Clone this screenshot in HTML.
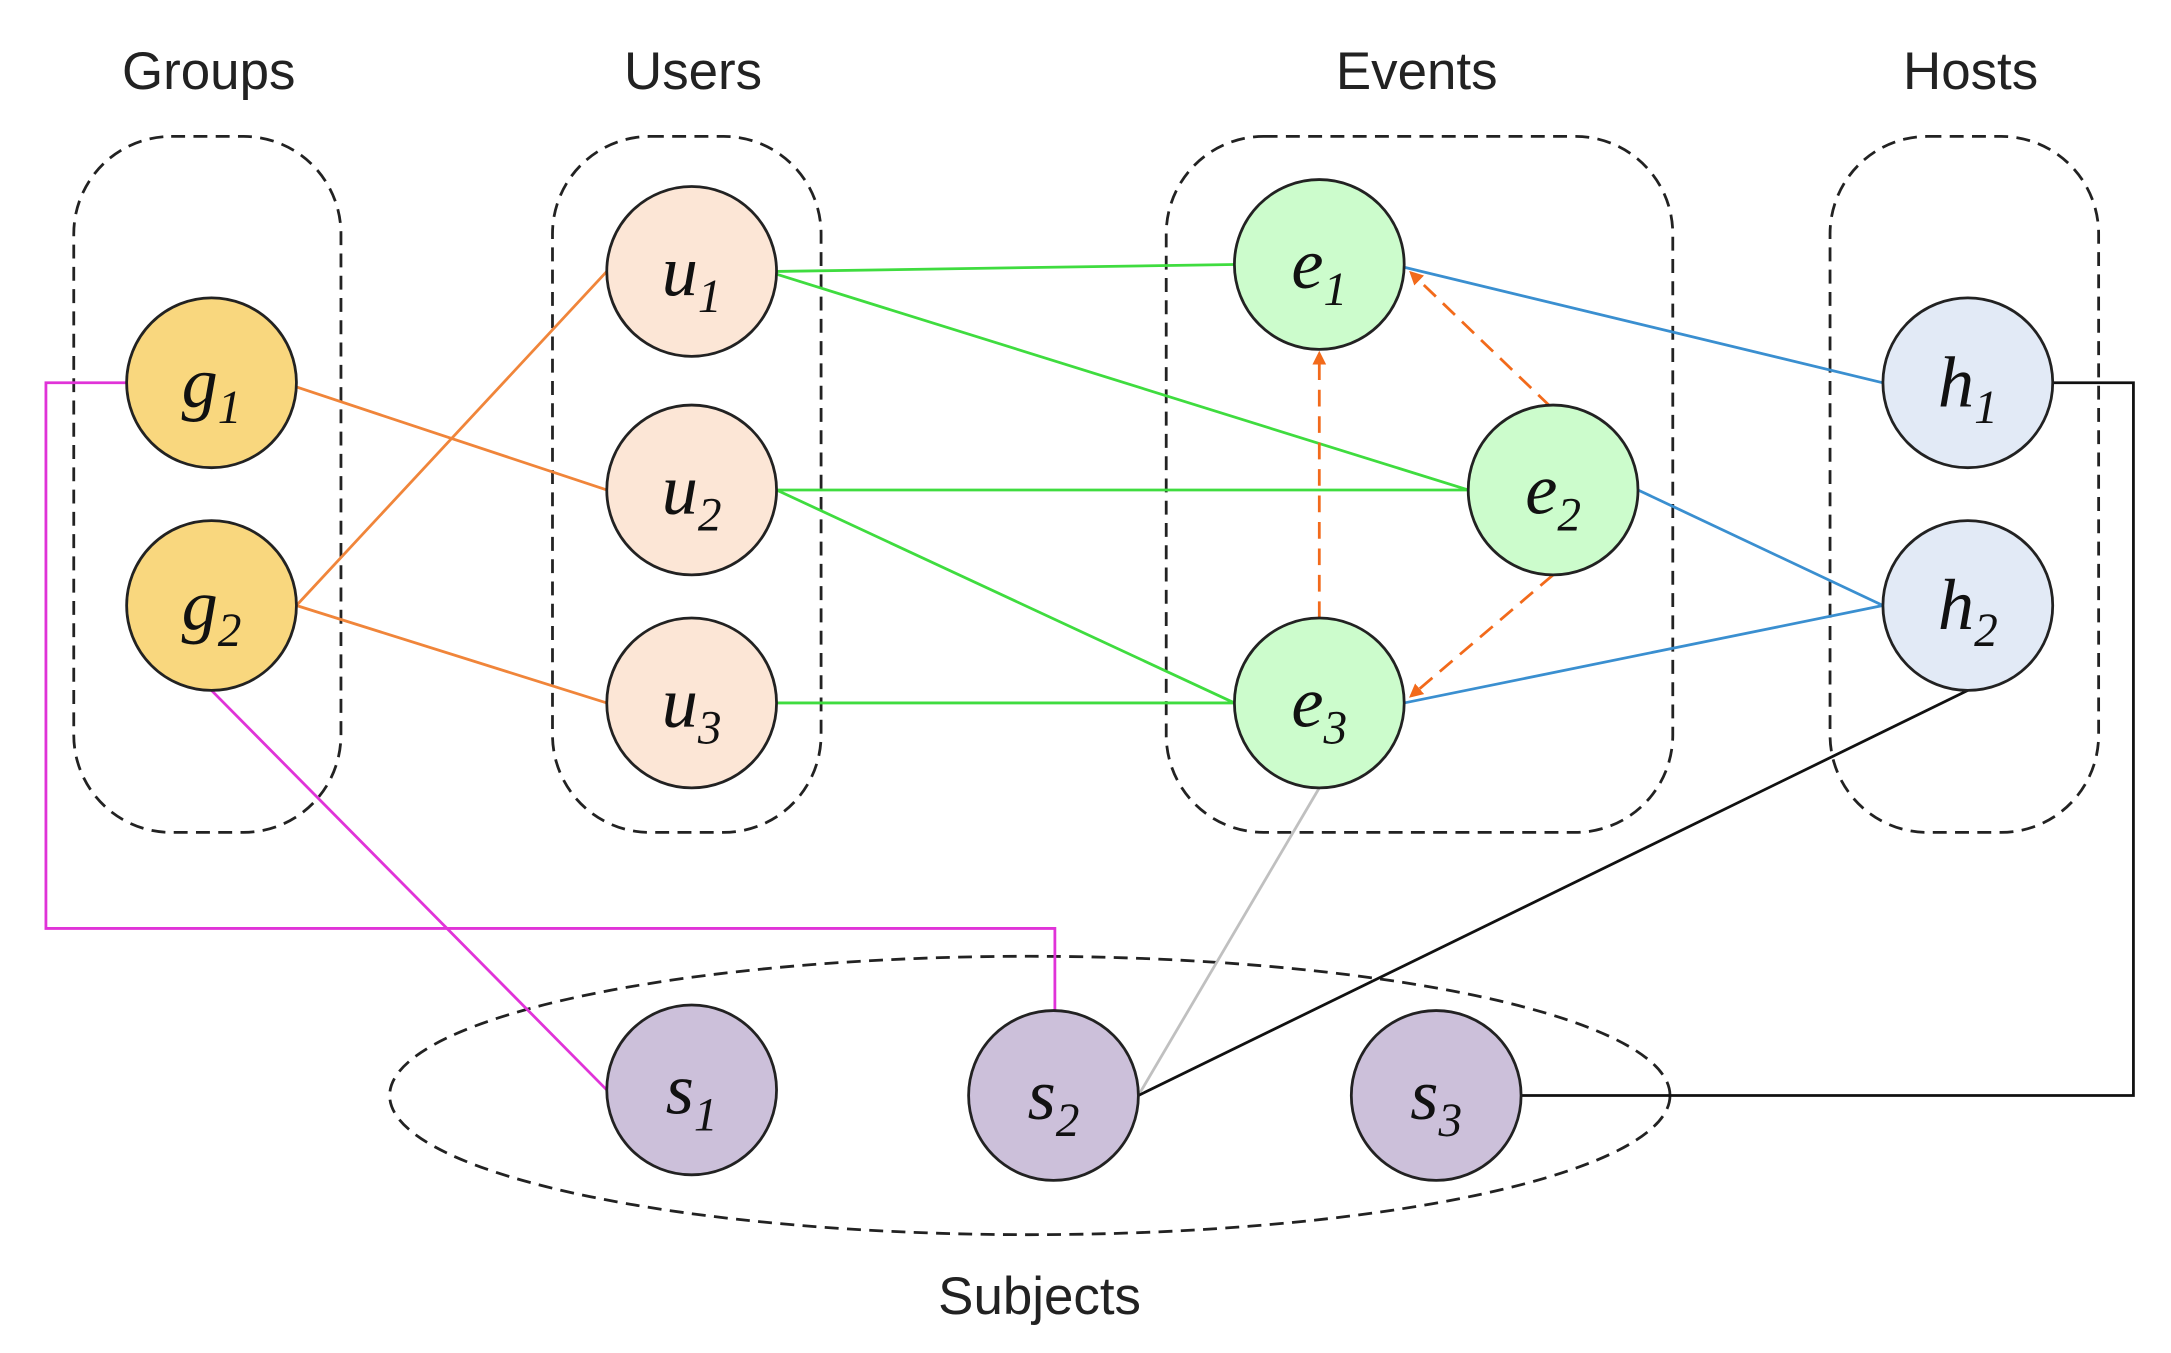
<!DOCTYPE html>
<html><head><meta charset="utf-8"><style>
html,body{margin:0;padding:0;background:#fff;}
svg{display:block;}
.lab{font-family:"Liberation Sans",sans-serif;font-size:38px;fill:#222;text-anchor:middle;}
.nl{font-family:"Liberation Serif",serif;font-style:italic;font-size:52px;fill:#111;text-anchor:middle;}
.sub{font-size:34px;}
</style></head><body>
<svg width="2171" height="1353" viewBox="0 0 1560 972" preserveAspectRatio="none">
<defs>
<marker id="ar" markerWidth="10" markerHeight="10" refX="8" refY="5" orient="auto" markerUnits="userSpaceOnUse"><path d="M0,0 L10,5 L0,10 z" fill="#f26a1b"/></marker>
</defs>
<g fill="none" stroke="#222" stroke-width="2" stroke-dasharray="10,6">
<rect x="53" y="98" width="192" height="500" rx="70"/>
<rect x="397" y="98" width="193" height="500" rx="70"/>
<rect x="838" y="98" width="364" height="500" rx="70"/>
<rect x="1315" y="98" width="193" height="500" rx="70"/>
<ellipse cx="740" cy="787" rx="460" ry="100"/>
</g>
<text class="lab" x="150" y="64">Groups</text>
<text class="lab" x="498" y="64">Users</text>
<text class="lab" x="1018" y="64">Events</text>
<text class="lab" x="1416" y="64">Hosts</text>
<text class="lab" x="747" y="944">Subjects</text>
<g stroke-width="2" fill="none">
<g stroke="#f0853a">
<line x1="213" y1="278" x2="436" y2="352"/>
<line x1="213" y1="435" x2="436" y2="195"/>
<line x1="213" y1="435" x2="436" y2="505"/>
</g>
<g stroke="#3fdc3f">
<line x1="558" y1="195" x2="887" y2="190"/>
<line x1="558" y1="197" x2="1055" y2="352"/>
<line x1="558" y1="352" x2="1055" y2="352"/>
<line x1="558" y1="352" x2="887" y2="505"/>
<line x1="558" y1="505" x2="887" y2="505"/>
</g>
<g stroke="#3a8fd0">
<line x1="1353" y1="275" x2="1009" y2="192"/>
<line x1="1353" y1="435" x2="1177" y2="352"/>
<line x1="1353" y1="435" x2="1009" y2="505"/>
</g>
<g stroke="#f26a1b" stroke-dasharray="12,7" marker-end="url(#ar)">
<line x1="948" y1="444" x2="948" y2="254"/>
<line x1="1114" y1="292" x2="1014" y2="196"/>
<line x1="1116" y1="413" x2="1014" y2="500"/>
</g>
<g stroke="#e033d8">
<polyline points="91,275 33,275 33,667 758,667 758,726"/>
<line x1="152" y1="496" x2="436" y2="783"/>
</g>
<line x1="948" y1="566" x2="818" y2="787" stroke="#c0c0c0"/>
<g stroke="#111">
<line x1="1414" y1="496" x2="818" y2="787"/>
<polyline points="1475,275 1533,275 1533,787 1093,787"/>
</g>
</g>
<g stroke="#222" stroke-width="2">
<circle cx="152" cy="275" r="61" fill="#f9d77e"/>
<circle cx="152" cy="435" r="61" fill="#f9d77e"/>
<circle cx="497" cy="195" r="61" fill="#fce6d6"/>
<circle cx="497" cy="352" r="61" fill="#fce6d6"/>
<circle cx="497" cy="505" r="61" fill="#fce6d6"/>
<circle cx="948" cy="190" r="61" fill="#ccfccc"/>
<circle cx="1116" cy="352" r="61" fill="#ccfccc"/>
<circle cx="948" cy="505" r="61" fill="#ccfccc"/>
<circle cx="1414" cy="275" r="61" fill="#e2eaf6"/>
<circle cx="1414" cy="435" r="61" fill="#e2eaf6"/>
<circle cx="497" cy="783" r="61" fill="#ccc0da"/>
<circle cx="757" cy="787" r="61" fill="#ccc0da"/>
<circle cx="1032" cy="787" r="61" fill="#ccc0da"/>
</g>
<g class="nl">
<text x="152" y="292">g<tspan class="sub" dy="12">1</tspan></text>
<text x="152" y="452">g<tspan class="sub" dy="12">2</tspan></text>
<text x="497" y="212">u<tspan class="sub" dy="12">1</tspan></text>
<text x="497" y="369">u<tspan class="sub" dy="12">2</tspan></text>
<text x="497" y="522">u<tspan class="sub" dy="12">3</tspan></text>
<text x="948" y="207">e<tspan class="sub" dy="12">1</tspan></text>
<text x="1116" y="369">e<tspan class="sub" dy="12">2</tspan></text>
<text x="948" y="522">e<tspan class="sub" dy="12">3</tspan></text>
<text x="1414" y="292">h<tspan class="sub" dy="12">1</tspan></text>
<text x="1414" y="452">h<tspan class="sub" dy="12">2</tspan></text>
<text x="497" y="800">s<tspan class="sub" dy="12">1</tspan></text>
<text x="757" y="804">s<tspan class="sub" dy="12">2</tspan></text>
<text x="1032" y="804">s<tspan class="sub" dy="12">3</tspan></text>
</g>
</svg>
</body></html>
